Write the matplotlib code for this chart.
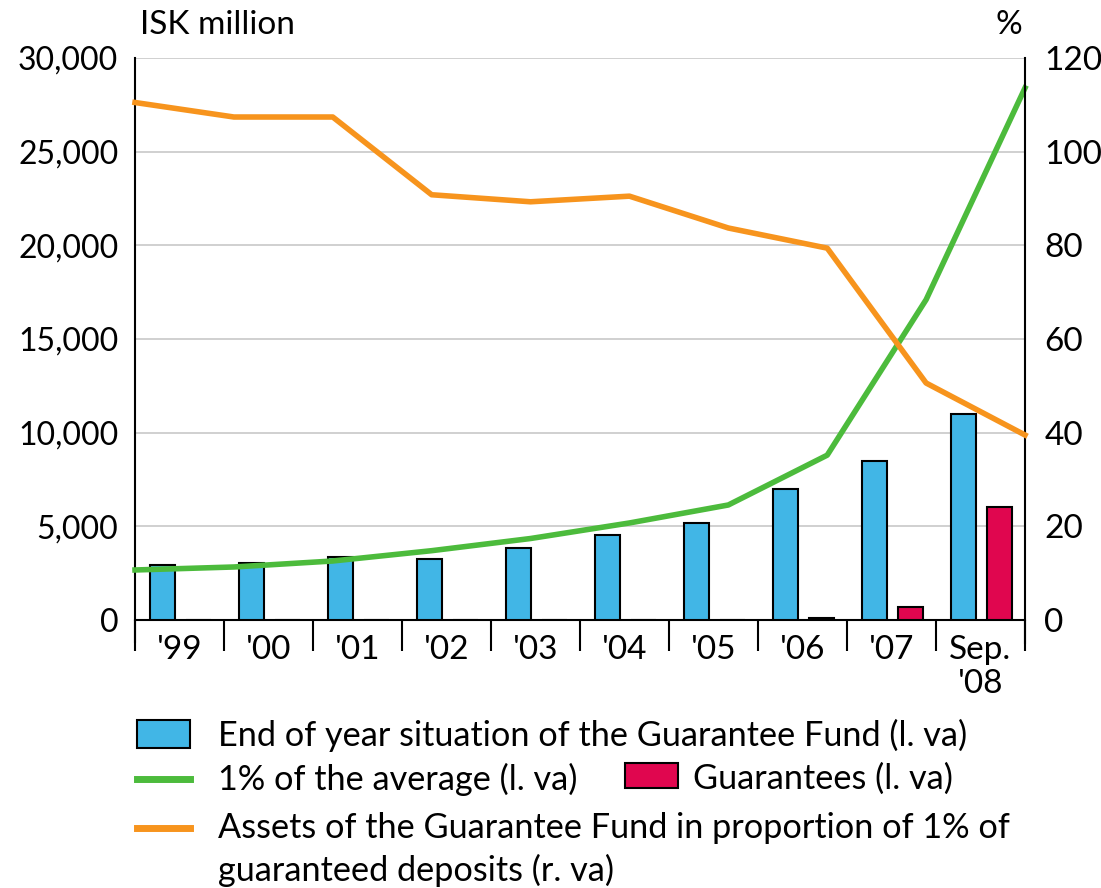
#%% bibliotecas
import numpy as np
import matplotlib.pyplot as plt
from matplotlib.patches import Rectangle
from matplotlib.lines import Line2D

plt.rcParams['font.family'] = ['Lato', 'DejaVu Sans']

#%% dados
anos = ["'99", "'00", "'01", "'02", "'03", "'04", "'05", "'06", "'07", "Sep.\n'08"]
fundo = [2940, 3040, 3360, 3250, 3840, 4540, 5180, 6990, 8490, 11000]
garantias = [0, 0, 0, 0, 0, 0, 0, 100, 700, 6030]
media_1pct = [2670, 2830, 3150, 3700, 4350, 5180, 6140, 8800, 17100, 28400]
proporcao = [110.5, 107.4, 107.4, 90.8, 89.3, 90.5, 83.7, 79.4, 50.6, 39.5]

azul = '#41b6e6'
vermelho = '#e0064f'
verde = '#4cbb3c'
laranja = '#f7941d'

#%% figura
fig = plt.figure(figsize=(11.01, 8.88), dpi=100)
ax = fig.add_axes([135/1101, 1 - 620/888, 890/1101, 562/888])
ax2 = ax.twinx()

n = len(anos)
x = np.arange(n)
ax.bar(x - 0.19, fundo, width=0.29, color=azul, edgecolor='black', linewidth=1.5, zorder=3)
ax.bar(x + 0.215, garantias, width=0.28, color=vermelho, edgecolor='black', linewidth=1.5, zorder=3)

# as linhas vão de borda a borda do eixo
x_lin = -0.5 + x * n / (n - 1)
ax.plot(x_lin, media_1pct, color=verde, lw=4, zorder=4, clip_on=False)
ax2.plot(x_lin, proporcao, color=laranja, lw=4, zorder=4, clip_on=False)

ax.set_xlim(-0.5, n - 0.5)
ax.set_ylim(0, 30000)
ax2.set_ylim(0, 120)
ax.set_yticks(range(0, 30001, 5000))
ax.set_yticklabels([f'{v:,}' for v in range(0, 30001, 5000)])
ax2.set_yticks(range(0, 121, 20))
ax.grid(axis='y', color='#c8c8c8', lw=1.2, zorder=0)
ax.set_axisbelow(True)

ax.set_xticks(np.arange(-0.5, n, 1))
ax.set_xticklabels([])
ax.set_xticks(x, minor=True)
ax.set_xticklabels(anos, minor=True, linespacing=1.15)
ax.tick_params(axis='x', which='major', length=22, width=1.5, direction='out')
ax.tick_params(axis='x', which='minor', length=0, labelsize=24, pad=11)
ax.tick_params(axis='y', length=0, labelsize=23, pad=12)
ax2.tick_params(axis='y', length=0, labelsize=24, pad=14)

ax.spines['top'].set_visible(False)
ax.spines['right'].set_visible(False)
ax.spines['left'].set_linewidth(1.5)
ax.spines['bottom'].set_linewidth(1.5)
ax.spines['left'].set_bounds(-1200, 30000)
for s in ('top', 'left', 'bottom'):
    ax2.spines[s].set_visible(False)
ax2.spines['right'].set_linewidth(1.5)
ax2.spines['right'].set_bounds(-5, 120)

fig.text(140/1101, 1 - 25/888, 'ISK million', fontsize=24, va='center', ha='left')
fig.text(1022/1101, 1 - 25/888, '%', fontsize=24, va='center', ha='right')

#%% legenda manual
def fy(py):
    return 1 - py / 888

fs = 24.7
fig.add_artist(Rectangle((137/1101, fy(748)), 53/1101, 28/888, transform=fig.transFigure,
                         facecolor=azul, edgecolor='black', lw=1.5))
fig.text(218/1101, fy(735), 'End of year situation of the Guarantee Fund (l. va)', fontsize=fs, va='center')
fig.add_artist(Line2D([137/1101, 190/1101], [fy(779), fy(779)], transform=fig.transFigure,
                      color=verde, lw=5))
fig.text(218/1101, fy(779), '1% of the average (l. va)', fontsize=fs, va='center')
fig.add_artist(Rectangle((625/1101, fy(788)), 53/1101, 25/888, transform=fig.transFigure,
                         facecolor=vermelho, edgecolor='black', lw=1.5))
fig.text(693/1101, fy(779), 'Guarantees (l. va)', fontsize=fs, va='center')
fig.add_artist(Line2D([137/1101, 190/1101], [fy(828), fy(828)], transform=fig.transFigure,
                      color=laranja, lw=5))
fig.text(218/1101, fy(828), 'Assets of the Guarantee Fund in proportion of 1% of', fontsize=fs, va='center')
fig.text(218/1101, fy(870), 'guaranteed deposits (r. va)', fontsize=fs, va='center')

fig.savefig('out.png', dpi=100)
